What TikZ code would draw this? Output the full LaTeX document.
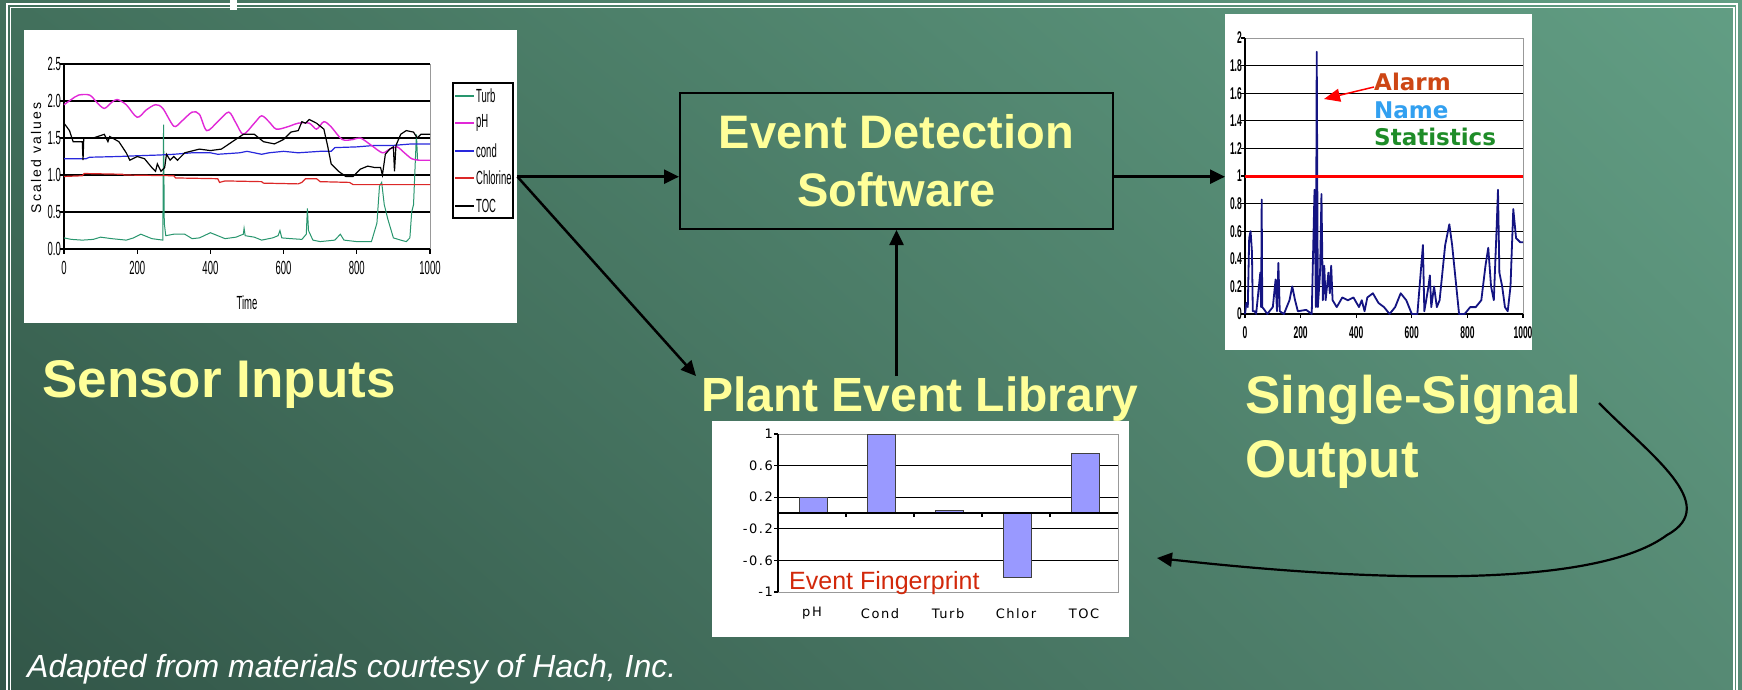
\documentclass[tikz,border=0pt]{standalone}
\usepackage{fontspec}
\setmainfont{Liberation Sans}
\newfontfamily\fpfont{DejaVu Sans}[LetterSpace=12]
\newfontfamily\vdfont{DejaVu Sans}
\newfontfamily\spsans{Liberation Sans}[LetterSpace=15]
\usetikzlibrary{positioning,arrows.meta,shadings}
\definecolor{bgtl}{RGB}{66,112,92}
\definecolor{bgtr}{RGB}{98,158,132}
\definecolor{bgbl}{RGB}{50,86,72}
\definecolor{bgbr}{RGB}{86,138,116}
\definecolor{lblyellow}{RGB}{255,255,153}
\definecolor{turbc}{RGB}{40,150,110}
\definecolor{phc}{RGB}{225,40,215}
\definecolor{condc}{RGB}{40,40,220}
\definecolor{chlc}{RGB}{220,40,40}
\definecolor{sigc}{RGB}{20,20,130}
\definecolor{alarmc}{RGB}{205,70,20}
\definecolor{namec}{RGB}{50,160,240}
\definecolor{statc}{RGB}{30,140,40}
\definecolor{barc}{RGB}{153,153,255}
\definecolor{fpred}{RGB}{210,40,10}
\newcommand{\nrw}[1]{\scalebox{0.5}[1]{#1}}
\begin{document}
\begin{tikzpicture}[x=1pt,y=-1pt,
  chart/.style={rectangle,fill=white,inner sep=0pt,anchor=north west},
  lbl/.style={text=lblyellow,inner sep=0pt,font=\fontsize{53}{64}\selectfont\bfseries,align=left},
  arr/.style={-{Triangle[length=15pt,width=14pt]},line width=2.5pt},
  gline/.style={line width=1.2pt},
  bline/.style={line width=0.8pt,black!40},
  sctick/.style={font=\fontsize{19}{19}\selectfont,inner sep=3pt},
  sigtick/.style={font=\fontsize{17}{17}\selectfont\bfseries,inner sep=3pt},
  fptick/.style={font=\fpfont\fontsize{13}{13}\selectfont,inner sep=3pt}
]
\shade[upper left=bgtl,upper right=bgtr,lower left=bgbl,lower right=bgbr] (0,0) rectangle (1742,690);
\useasboundingbox (0,0) rectangle (1742,690);
\draw[white,line width=1.5pt] (7,690) |- (1737,4) -- (1737,690);
\draw[white,line width=1.2pt] (10.5,690) |- (1734,7.5) -- (1734,690);
\fill[white] (230,0) rectangle (237,10);

\node[chart,minimum width=493pt,minimum height=293pt] (sensorchart) at (24,30) {};
\begin{scope}[shift={(64,249)},x=0.366pt,y=74pt]
  \foreach \v in {0.5,1,1.5,2} \draw[gline] (0,\v) -- (1000,\v);
  \draw[gline] (0,2.5) -- (1000,2.5);
  \draw[bline] (1000,0) -- (1000,2.5);
  \draw[gline] (0,0) -- (0,2.5) (0,0) -- (1000,0);
  \foreach \v/\t in {0/0.0,0.5/0.5,1/1.0,1.5/1.5,2/2.0,2.5/2.5} {
    \draw[gline] (0,\v) -- ++(-4pt,0pt);
    \node[sctick,anchor=east] at (0,\v) {\nrw{\t}};
  }
  \foreach \x in {0,200,...,1000} {
    \draw[gline] (\x,0) -- ++(0pt,-5pt);
    \node[sctick,anchor=north] at ([yshift=-9pt]\x,0) {\nrw{\x}};
  }
  \node[sctick] at (500,-0.72) {\nrw{Time}};
  \draw[turbc,line width=1pt] plot coordinates {(0,0.15) (20,0.13) (50,0.12) (80,0.13) (100,0.16) (130,0.14) (170,0.12) (190,0.15) (210,0.2) (240,0.14) (270,0.12) (272,1.68) (274,0.35) (278,0.18) (300,0.2) (330,0.2) (350,0.14) (370,0.15) (400,0.22) (420,0.18) (440,0.14) (470,0.16) (490,0.2) (492,0.28) (495,0.18) (520,0.16) (540,0.12) (570,0.15) (585,0.18) (590,0.25) (595,0.15) (620,0.14) (650,0.13) (662,0.2) (665,0.55) (668,0.25) (680,0.12) (700,0.1) (740,0.12) (755,0.2) (765,0.12) (800,0.1) (840,0.1) (855,0.35) (862,0.85) (868,0.9) (875,0.6) (885,0.4) (900,0.15) (920,0.12) (935,0.1) (945,0.15) (950,0.5) (955,0.6) (960,1.2) (963,1.55) (966,1.2)};
  \draw[chlc,line width=1.2pt] plot coordinates {(0,0.98) (50,0.99) (55,1.02) (160,1.01) (165,1.0) (300,0.99) (305,0.96) (420,0.95) (425,0.9) (440,0.92) (540,0.91) (545,0.89) (640,0.88) (650,0.9) (660,0.95) (690,0.95) (700,0.91) (780,0.9) (790,0.87) (1000,0.87)};
  \draw[condc,line width=1.2pt] plot coordinates {(0,1.22) (60,1.22) (70,1.24) (150,1.25) (200,1.26) (260,1.27) (300,1.28) (350,1.3) (400,1.3) (420,1.28) (480,1.3) (500,1.32) (540,1.28) (560,1.3) (600,1.32) (640,1.3) (700,1.32) (730,1.32) (740,1.37) (800,1.38) (850,1.4) (900,1.4) (950,1.42) (1000,1.42)};
  \draw[phc,line width=1.4pt] plot[smooth] coordinates {(0,1.95) (20,2.02) (40,2.08) (70,2.08) (90,1.98) (110,1.9) (130,1.98) (145,2.02) (170,1.95) (200,1.78) (225,1.88) (250,1.95) (270,1.9) (300,1.66) (320,1.72) (350,1.85) (370,1.82) (390,1.6) (420,1.72) (450,1.85) (470,1.7) (490,1.55) (520,1.7) (540,1.8) (560,1.72) (580,1.62) (610,1.65) (640,1.7) (670,1.7) (690,1.62) (710,1.72) (730,1.65) (760,1.48) (790,1.48) (810,1.5) (840,1.4) (870,1.3) (890,1.35) (910,1.38) (930,1.3) (950,1.22) (970,1.2) (1000,1.2)};
  \draw[black,line width=1.2pt] plot coordinates {(0,1.7) (15,1.6) (25,1.45) (50,1.45) (52,1.2) (54,1.5) (80,1.5) (110,1.55) (120,1.45) (125,1.52) (150,1.45) (170,1.3) (180,1.2) (200,1.25) (220,1.22) (240,1.1) (250,1.05) (255,1.15) (265,1.05) (275,1.1) (280,1.28) (290,1.2) (300,1.25) (310,1.2) (330,1.3) (370,1.35) (400,1.33) (430,1.35) (460,1.45) (490,1.55) (520,1.55) (545,1.45) (575,1.42) (600,1.48) (620,1.58) (640,1.6) (650,1.72) (660,1.7) (670,1.75) (690,1.7) (710,1.62) (720,1.4) (730,1.15) (750,1.05) (770,0.98) (790,0.98) (810,1.08) (830,1.12) (850,1.1) (865,1.1) (870,1.0) (878,1.28) (890,1.35) (900,1.38) (903,1.05) (907,1.4) (920,1.55) (935,1.6) (955,1.58) (965,1.5) (975,1.55) (1000,1.55)};
\end{scope}
\node[font=\spsans\fontsize{14}{14}\selectfont,rotate=90] at (36,158) {Scaled values};
\draw[line width=1.5pt] (453,83) rectangle (513,218);
\foreach \y/\c/\t in {96/turbc/Turb,123/phc/pH,151/condc/cond,178/chlc/Chlorine,206/black/TOC} {
  \draw[\c,line width=1.3pt] (455,\y) -- (474,\y);
  \node[sctick,anchor=west,inner sep=0pt] at (476,\y) {\nrw{\t}};
}

\node[chart,minimum width=307pt,minimum height=336pt] (outchart) at (1225,14) {};
\begin{scope}[shift={(1245,314)},x=0.278pt,y=138pt]
  \foreach \v in {0.2,0.4,0.6,0.8,1.2,1.4,1.6,1.8} \draw[gline] (0,\v) -- (1000,\v);
  \draw[bline] (0,2) -- (1000,2) -- (1000,0);
  \draw[gline] (0,0) -- (0,2) (0,0) -- (1000,0);
  \foreach \v/\t in {0/0,0.2/0.2,0.4/0.4,0.6/0.6,0.8/0.8,1/1,1.2/1.2,1.4/1.4,1.6/1.6,1.8/1.8,2/2} {
    \draw[gline] (0,\v) -- ++(-4pt,0pt);
    \node[sigtick,anchor=east] at (0,\v) {\nrw{\t}};
  }
  \foreach \x in {0,200,...,1000} {
    \draw[gline] (\x,0) -- ++(0pt,-4pt);
    \node[sigtick,anchor=north] at ([yshift=-9pt]\x,0) {\nrw{\x}};
  }
  \draw[sigc,line width=1.8pt,line join=round] plot coordinates {(0,0) (5,0.08) (10,0.05) (15,0.55) (20,0.6) (25,0.45) (28,0.02) (35,0.02) (40,0) (50,0.2) (55,0.3) (58,0.05) (60,0.83) (62,0.05) (70,0.03) (80,0) (100,0.05) (110,0.25) (115,0.02) (120,0.37) (125,0.02) (140,0) (160,0.1) (170,0.2) (180,0.1) (190,0.02) (220,0.03) (240,0) (250,0.9) (255,0.05) (258,1.9) (262,0.05) (270,0.3) (275,0.87) (280,0.1) (285,0.35) (290,0.1) (300,0.3) (305,0.15) (310,0.35) (315,0.1) (330,0.05) (350,0.12) (370,0.1) (390,0.12) (410,0.05) (420,0.1) (430,0.02) (440,0.12) (460,0.15) (480,0.08) (500,0.05) (520,0) (540,0.05) (560,0.15) (580,0.1) (600,0) (620,0) (640,0.5) (645,0.02) (660,0.2) (665,0.28) (670,0.05) (680,0.2) (690,0.05) (700,0.1) (710,0.3) (720,0.5) (735,0.65) (745,0.5) (760,0.2) (770,0) (790,0) (810,0.05) (830,0.05) (850,0.1) (865,0.35) (875,0.48) (885,0.2) (895,0.1) (905,0.62) (910,0.9) (915,0.3) (925,0.2) (935,0.05) (945,0.02) (955,0.2) (965,0.76) (975,0.55) (990,0.52) (1000,0.52)};
  \draw[red,line width=3pt] (0,1) -- (1000,1);
\end{scope}
\node[font=\vdfont\bfseries\fontsize{23}{23}\selectfont,text=alarmc,anchor=west,inner sep=0pt] (alarm) at (1374,82) {Alarm};
\node[font=\vdfont\bfseries\fontsize{23}{23}\selectfont,text=namec,anchor=west,inner sep=0pt] (name) at (1374,110) {Name};
\node[font=\vdfont\bfseries\fontsize{23}{23}\selectfont,text=statc,anchor=west,inner sep=0pt] (stats) at (1374,137) {Statistics};
\coordinate (alarmtip) at (1324,99);
\draw[red,line width=1.5pt,-{Triangle[length=16pt,width=13pt]}] ([yshift=-5pt]alarm.west) -- (alarmtip);

\node[chart,minimum width=417pt,minimum height=216pt] (fpchart) at (712,421) {};
\begin{scope}[shift={(778,513)},y=79pt]
  \foreach \v in {0.6,0.2,-0.2,-0.6} \draw[gline] (0,\v) -- (340,\v);
  \draw[bline] (0,1) -- (340,1) -- (340,-1) -- (0,-1);
  \draw[gline] (0,-1) -- (0,1);
  \foreach \v/\t in {1/1,0.6/0.6,0.2/0.2,-0.2/-0.2,-0.6/-0.6,-1/-1} {
    \draw[gline] (0,\v) -- ++(-4pt,0pt);
    \node[fptick,anchor=east] at ([xshift=-2pt]0,\v) {\t};
  }
  \foreach \i/\h in {0/0.2,1/1,2/0.03,3/-0.82,4/0.75}
    \draw[fill=barc,draw=black!75,line width=0.8pt] ({\i*68+21},0) rectangle ({\i*68+49},\h);
  \draw[gline] (0,0) -- (340,0);
  \foreach \i in {1,...,4} \draw[gline] (\i*68,0) -- ++(0pt,-4pt);
  \foreach \i/\t in {0/pH,1/Cond,2/Turb,3/Chlor,4/TOC}
    \node[fptick] at ({\i*68+34},-1.27) {\t};
\end{scope}
\node[font=\fontsize{25}{25}\selectfont,text=fpred,anchor=base west,inner sep=0pt] (fprint) at (789,589) {Event Fingerprint};

\node[draw=black,line width=2pt,minimum width=433pt,minimum height=136pt,align=center,text=lblyellow,font=\fontsize{47}{58}\selectfont\bfseries] (eds) at (896.5,161) {Event Detection\\Software};

\node[lbl,anchor=base west] (sensorlbl) at (42,397) {Sensor Inputs};
\node[lbl,anchor=base west,font=\fontsize{48}{58}\selectfont\bfseries] (librarylbl) at (701,411) {Plant Event Library};
\node[lbl,anchor=north west] (outputlbl) at (1245,375) {Single-Signal\\Output};

\node[anchor=base west,inner sep=0pt,text=white,font=\itshape\fontsize{32}{32}\selectfont] (credit) at (27,677) {Adapted from materials courtesy of Hach, Inc.};

\draw[arr] (sensorchart.east) -- (sensorchart.east -| eds.west);
\draw[arr] (sensorchart.east) -- ([xshift=-5pt]librarylbl.north west);
\draw[arr] (eds.south |- librarylbl.north) -- (eds.south);
\draw[arr] (sensorchart.east -| eds.east) -- (sensorchart.east -| outchart.west);
\coordinate (loopstart) at (1599,403);
\coordinate (loopbend) at (1667,535);
\coordinate (loopend) at (1157,558);
\draw[arr,line width=2.2pt] (loopstart) .. controls (1650,455) and (1722,505) .. (loopbend) .. controls (1600,585) and (1400,585) .. (loopend);
\end{tikzpicture}
\end{document}
